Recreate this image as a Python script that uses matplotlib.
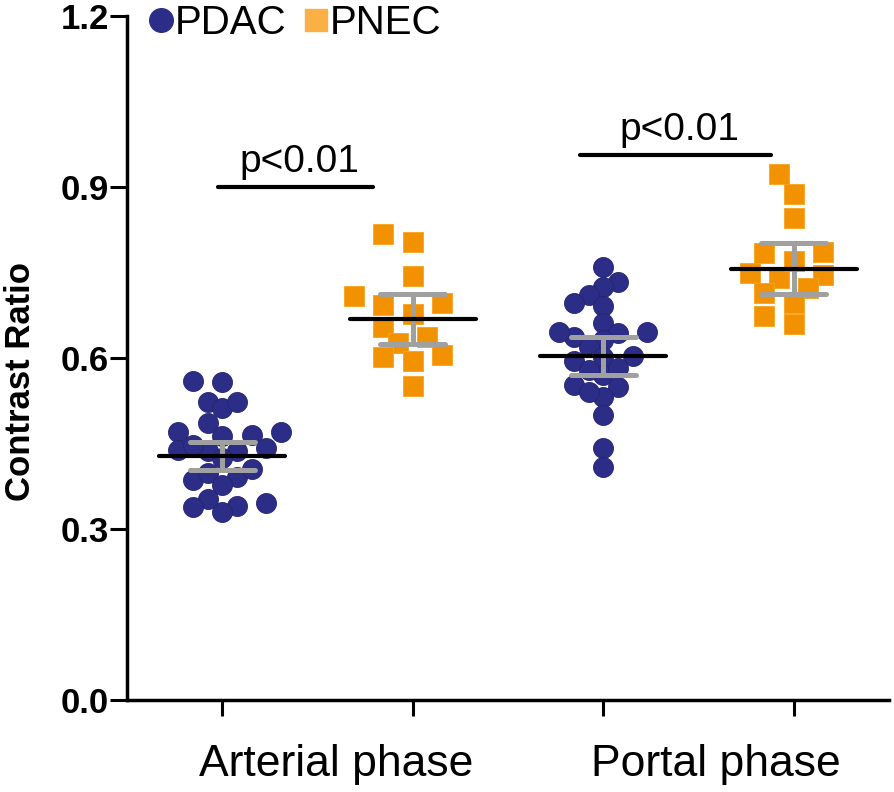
#!/usr/bin/env python3
"""
Contrast ratio scatter dot plot: PDAC vs PNEC in arterial and portal phase.
Mean (black) with error bars (grey), points laid out as a simple beeswarm.
"""

import numpy as np
import matplotlib
matplotlib.use("Agg")
import matplotlib.pyplot as plt
from matplotlib.lines import Line2D

plt.rcParams['font.family'] = ['Liberation Sans', 'DejaVu Sans']

# ---- data ------------------------------------------------------------------
phases = ['Arterial phase', 'Portal phase']
groups = ['PDAC', 'PNEC']

pdac_arterial = [0.558, 0.560, 0.522, 0.512, 0.523, 0.486, 0.465, 0.471,
                 0.463, 0.471, 0.436, 0.442, 0.439, 0.436, 0.392, 0.406,
                 0.386, 0.398, 0.378, 0.341, 0.352, 0.330, 0.345, 0.338,
                 0.448, 0.425]
pnec_arterial = [0.818, 0.804, 0.743, 0.708, 0.697, 0.693, 0.678, 0.655,
                 0.636, 0.626, 0.605, 0.602, 0.594, 0.551]
pdac_portal = [0.760, 0.734, 0.725, 0.711, 0.691, 0.697, 0.662, 0.644,
               0.646, 0.636, 0.632, 0.646, 0.604, 0.620, 0.602, 0.594,
               0.570, 0.579, 0.582, 0.550, 0.553, 0.532, 0.541, 0.500,
               0.442, 0.409]
pnec_portal = [0.923, 0.888, 0.845, 0.786, 0.784, 0.749, 0.746, 0.740,
               0.722, 0.714, 0.696, 0.674, 0.660, 0.770]

# mean and error bar half-widths as drawn in the figure
mean_vals = [0.428, 0.668, 0.603, 0.757]
err_vals = [0.024, 0.044, 0.033, 0.044]

# significance brackets
sig_labels = ['p<0.01', 'p<0.01']
sig_y = [0.900, 0.956]
sig_x0 = [0.98, 2.88]
sig_x1 = [1.79, 3.88]

# ---- styling ----------------------------------------------------------------
PDAC_COLOR = '#2c2d86'
PNEC_COLOR = '#f39200'
PNEC_LEGEND = '#fbb045'
ERR_COLOR = '#a0a0a0'

PX_PER_X = 191.0   # pixels per x unit
PX_PER_Y = 570.0   # pixels per y unit


def swarm_offsets(values, slot_px=14.7, min_dist_px=18.0):
    """Very small beeswarm: place each point at the closest free slot."""
    order = np.argsort(values)
    placed = []
    offsets = np.zeros(len(values))
    for idx in order:
        y = values[idx] * PX_PER_Y
        k = 0
        while True:
            cands = [0] if k == 0 else [-k, k]
            done = False
            for c in cands:
                x = c * slot_px
                if all((x - px) ** 2 + (y - py) ** 2 >= min_dist_px ** 2
                       for px, py in placed):
                    placed.append((x, y))
                    offsets[idx] = x / PX_PER_X
                    done = True
                    break
            if done:
                break
            k += 1
    return offsets


fig = plt.figure(figsize=(8.94, 7.92), dpi=100)
ax = fig.add_axes([127 / 894, 1 - 700 / 792, 762 / 894, 684 / 792])

series = [
    (pdac_arterial, 'o', PDAC_COLOR),
    (pnec_arterial, 's', PNEC_COLOR),
    (pdac_portal, 'o', PDAC_COLOR),
    (pnec_portal, 's', PNEC_COLOR),
]
positions = np.arange(1, len(series) + 1)

for pos, (vals, marker, color) in zip(positions, series):
    vals = np.asarray(vals)
    if marker == 'o':
        offs = swarm_offsets(vals, min_dist_px=15.5)
        ax.scatter(pos + offs, vals, s=14.4 ** 2, marker='o', color=color,
                   edgecolors='#24246e', linewidths=0.6, zorder=2,
                   clip_on=False)
    else:
        offs = swarm_offsets(vals, min_dist_px=20.0)
        ax.scatter(pos + offs, vals, s=14.0 ** 2, marker='s', color=color,
                   edgecolors='#f7a21e', linewidths=0.6, zorder=2,
                   clip_on=False)

means = np.asarray(mean_vals)
errs = np.asarray(err_vals)

# grey error bars with rounded caps
ax.vlines(positions, means - errs, means + errs, colors=ERR_COLOR,
          linewidth=3.6, zorder=3, capstyle='round')
for y in (means - errs, means + errs):
    ax.hlines(y, positions - 0.17, positions + 0.17, colors=ERR_COLOR,
              linewidth=3.6, zorder=3, capstyle='round')
# black mean lines
ax.hlines(means, positions - 0.33, positions + 0.33, colors='black',
          linewidth=3.0, zorder=4, capstyle='round')

# significance bars
for lab, y, x0, x1 in zip(sig_labels, sig_y, sig_x0, sig_x1):
    ax.hlines(y, x0, x1, colors='black', linewidth=3.0, capstyle='round')
    ax.annotate(lab, xy=((x0 + x1) / 2 + 0.02, y), xytext=(0, 5),
                textcoords='offset points', ha='center', va='bottom',
                fontsize=28)

# axes
ax.set_xlim(0.5, 4.5)
ax.set_ylim(0, 1.2)
for side in ('top', 'right'):
    ax.spines[side].set_visible(False)
for side in ('left', 'bottom'):
    ax.spines[side].set_linewidth(2.5)

ax.set_yticks([0.0, 0.3, 0.6, 0.9, 1.2])
ax.set_yticklabels(['0.0', '0.3', '0.6', '0.9', '1.2'],
                   fontsize=25, fontweight='bold')
ax.tick_params(axis='y', length=12, width=2.2, pad=1)

ax.set_xticks(positions)
ax.set_xticklabels([])
ax.tick_params(axis='x', which='major', length=11.5, width=2.2)
ax.set_xticks([1.6, 3.59], minor=True)
ax.set_xticklabels(phases, minor=True, fontsize=32)
ax.tick_params(axis='x', which='minor', length=0, pad=32)

ax.set_ylabel('Contrast Ratio', fontsize=25, fontweight='bold')
ax.yaxis.set_label_coords(-0.118, 0.466)

# legend
handles = [
    Line2D([], [], marker='o', linestyle='none', markersize=17,
           markerfacecolor=PDAC_COLOR, markeredgecolor=PDAC_COLOR),
    Line2D([], [], marker='s', linestyle='none', markersize=16,
           markerfacecolor=PNEC_LEGEND, markeredgecolor=PNEC_LEGEND),
]
fig.legend(handles, groups, loc='upper left',
           bbox_to_anchor=(149 / 894, 1 - 4 / 792), frameon=False, ncol=2,
           fontsize=29, handlelength=0.6, handletextpad=0.05,
           columnspacing=0.42, borderpad=0, borderaxespad=0)

fig.savefig('out.png', dpi=100)
